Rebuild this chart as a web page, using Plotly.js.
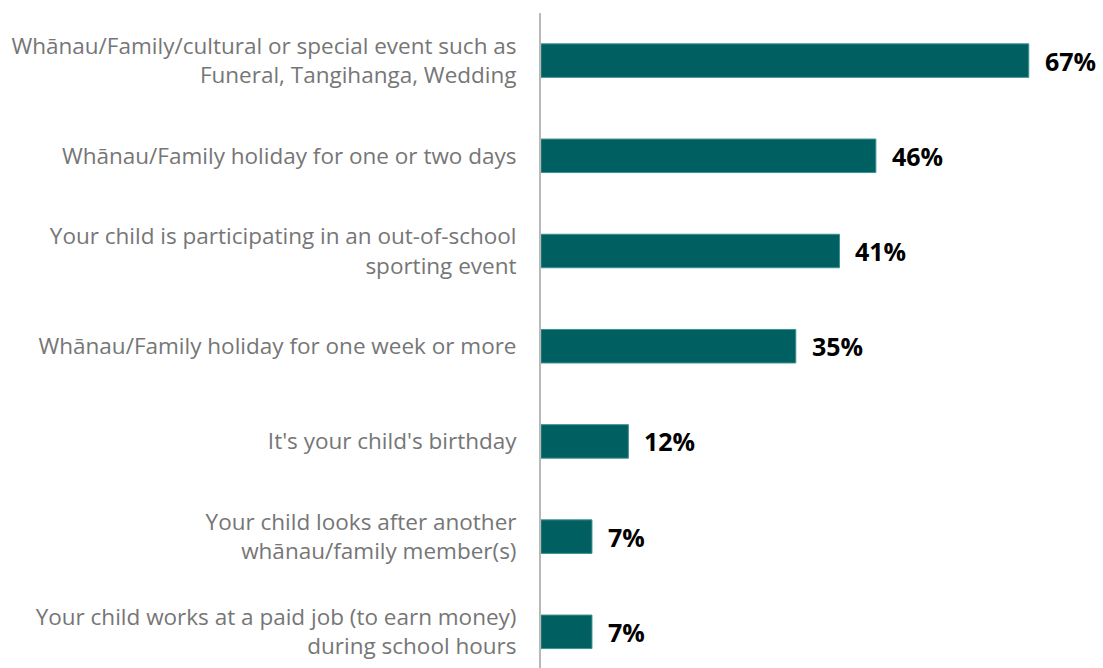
<!DOCTYPE html>
<html>
<head>
<meta charset="utf-8">
<script src="https://cdn.plot.ly/plotly-3.0.1.min.js"></script>
<style>html,body{margin:0;padding:0;background:#fff;}#chart{width:1103px;height:668px;}</style>
</head>
<body>
<div id="chart"></div>
<script>
const categories = [
  "Whānau/Family/cultural or special event such as<br>Funeral, Tangihanga, Wedding",
  "Whānau/Family holiday for one or two days",
  "Your child is participating in an out-of-school<br>sporting event",
  "Whānau/Family holiday for one week or more",
  "It's your child's birthday",
  "Your child looks after another<br>whānau/family member(s)",
  "Your child works at a paid job (to earn money)<br>during school hours"
];
const values = [67, 46, 41, 35, 12, 7, 7];
const valueLabels = values.map(v => v + "%");

const trace = {
  type: "bar",
  orientation: "h",
  y: categories.map((c, i) => i),
  x: values,
  width: 0.352,
  marker: {color: "#005F60", line: {color: "#3E9090", width: 1}},
  hoverinfo: "skip"
};

const annotations = values.map((v, i) => ({
  x: v, y: i, xref: "x", yref: "y",
  text: "<b>" + valueLabels[i] + "</b>",
  showarrow: false, xanchor: "left", yanchor: "middle", xshift: 14,
  font: {family: "Open Sans, sans-serif", size: 25, color: "#000"}
}));

const layout = {
  width: 1103, height: 668,
  margin: {l: 541, r: 0, t: 13, b: 0},
  paper_bgcolor: "#fff", plot_bgcolor: "#fff",
  showlegend: false,
  xaxis: {range: [0, 77.2], showgrid: false, zeroline: false, showticklabels: false, showline: false, fixedrange: true},
  yaxis: {
    range: [6.38, -0.5],
    tickmode: "array", tickvals: categories.map((c, i) => i), ticktext: categories,
    showgrid: false, zeroline: false,
    showline: true, linecolor: "#B8B8B8", linewidth: 2,
    ticks: "", ticklabelstandoff: 18,
    tickfont: {family: "Open Sans, sans-serif", size: 22.5, color: "#767676"},
    fixedrange: true
  },
  annotations: annotations
};

Plotly.newPlot("chart", [trace], layout, {displayModeBar: false, staticPlot: true});
</script>
</body>
</html>
